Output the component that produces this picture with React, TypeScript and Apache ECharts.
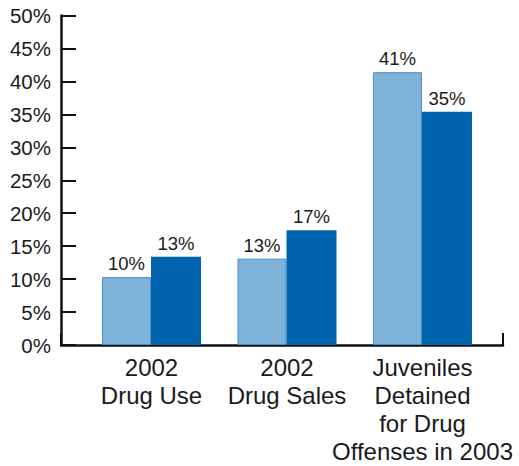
import React, { useEffect, useRef } from "react";
import * as echarts from "echarts";

const categories = ["2002\nDrug Use", "2002\nDrug Sales", "Juveniles\nDetained\nfor Drug\nOffenses in 2003"];
const seriesLight = [10.3, 13.1, 41.4];
const seriesDark = [13.4, 17.4, 35.4];
const yTicks = { min: 0, max: 50, interval: 5 };

const FONT = "Liberation Sans, Arial, sans-serif";

export default function App() {
  const ref = useRef<HTMLDivElement>(null);
  useEffect(() => {
    if (!ref.current) return;
    const chart = echarts.init(ref.current, null, { renderer: "svg" });
    const top = 15.5;
    const bottom = 466 - 345;
    const label = {
      show: true,
      position: "top",
      distance: 4,
      fontSize: 18.5,
      color: "#1a1a1a",
      fontFamily: FONT,
      formatter: (p: any) => Math.round(p.value) + "%",
    };
    chart.setOption({
      animation: false,
      backgroundColor: "#ffffff",
      textStyle: { fontFamily: FONT },
      grid: [
        { left: 61, right: 16, top, bottom },
        { left: 83.75, right: 519 - 490.25, top, bottom },
      ],
      xAxis: [
        {
          type: "value",
          gridIndex: 0,
          min: 0,
          max: 1,
          interval: 1,
          axisLine: { show: true, lineStyle: { color: "#111", width: 2.5 } },
          axisTick: { show: true, inside: true, length: 12, lineStyle: { color: "#111", width: 2 } },
          axisLabel: { show: false },
          splitLine: { show: false },
        },
        {
          type: "category",
          gridIndex: 1,
          data: categories,
          axisLine: { show: false },
          axisTick: { show: false },
          axisLabel: {
            fontSize: 24,
            lineHeight: 28,
            color: "#1a1a1a",
            margin: 8,
            fontFamily: FONT,
            interval: 0,
          },
        },
      ],
      yAxis: [
        {
          type: "value",
          gridIndex: 0,
          ...yTicks,
          axisLine: { show: true, lineStyle: { color: "#111", width: 2.5 } },
          axisTick: { show: true, inside: true, length: 15, lineStyle: { color: "#111", width: 2 } },
          axisLabel: {
            formatter: "{value}%",
            fontSize: 20.5,
            color: "#1a1a1a",
            margin: 10,
            fontFamily: FONT,
          },
          splitLine: { show: false },
        },
        {
          type: "value",
          gridIndex: 1,
          ...yTicks,
          show: false,
          splitLine: { show: false },
        },
      ],
      series: [
        {
          type: "bar",
          xAxisIndex: 1,
          yAxisIndex: 1,
          data: seriesLight,
          barWidth: 49,
          barGap: "0%",
          itemStyle: { color: "#80b3d9", borderColor: "#4a8fc8", borderWidth: 1 },
          label,
        },
        {
          type: "bar",
          xAxisIndex: 1,
          yAxisIndex: 1,
          data: seriesDark,
          barWidth: 50,
          barGap: "0%",
          itemStyle: { color: "#0065ae" },
          label,
        },
      ],
    });
    return () => chart.dispose();
  }, []);
  return (
    <div
      ref={ref}
      style={{ position: "absolute", left: 0, top: 0, width: 519, height: 466 }}
    />
  );
}
